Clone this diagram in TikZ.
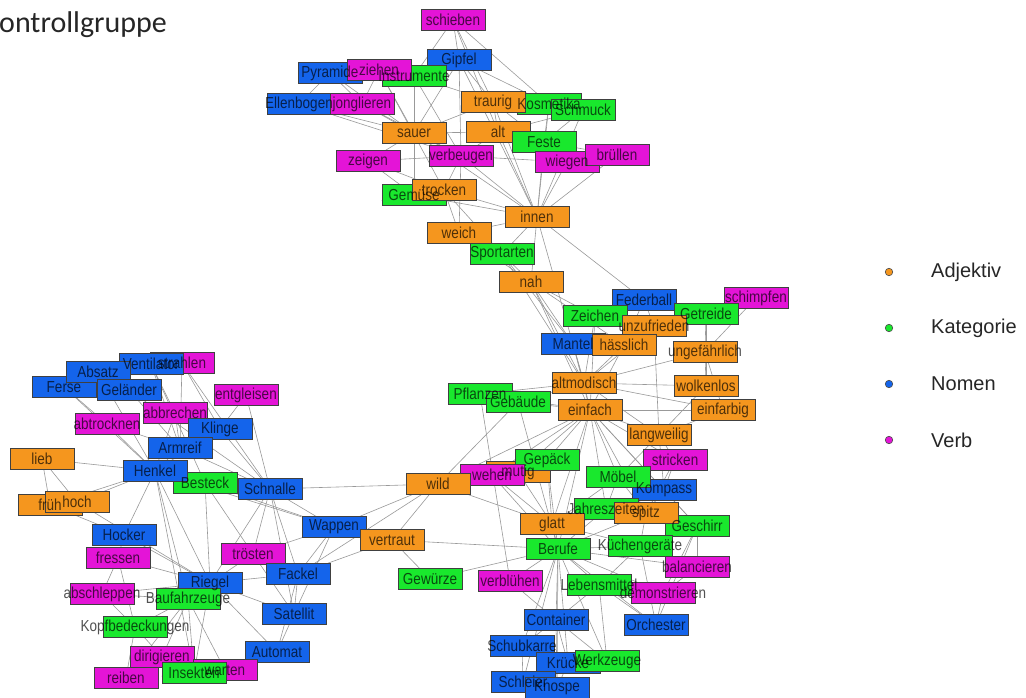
\documentclass[tikz,border=0pt]{standalone}
\usepackage{fontspec}
\setmainfont{Liberation Sans}
\newfontfamily\titlefont{Carlito}
\definecolor{adjcol}{RGB}{245,150,30}
\definecolor{katcol}{RGB}{25,232,45}
\definecolor{nomcol}{RGB}{20,100,235}
\definecolor{verbcol}{RGB}{228,20,215}
\pgfdeclarelayer{links}
\pgfdeclarelayer{labels}
\pgfsetlayers{links,main,labels}
% box first, its word on the top layer
\newcommand{\wbox}[5]{%
  \node[#1] (#2) at (#3,#4) {};
  \begin{pgfonlayer}{labels}\node[wlabel] at (#2) {#5};\end{pgfonlayer}}

\begin{document}
\begin{tikzpicture}[x=1pt,y=-1pt,
  word/.style={draw=black!75,line width=0.85pt,minimum width=64pt,minimum height=20.5pt,inner sep=0pt},
  adj/.style={word,fill=adjcol},
  kat/.style={word,fill=katcol},
  nom/.style={word,fill=nomcol},
  verb/.style={word,fill=verbcol},
  wlabel/.style={inner sep=0pt,yscale=1.18,text=black,text opacity=0.68,font=\fontsize{13.5}{15}\selectfont},
  wlink/.style={draw=black!40,line width=0.6pt},
  dot/.style={circle,draw=black!70,line width=0.6pt,minimum size=7.5pt,inner sep=0pt},
  legtext/.style={anchor=west,inner sep=0pt,text=black!85,font=\fontsize{20}{24}\selectfont}]
  \useasboundingbox (0,0) rectangle (1026,697);
  \begin{pgfonlayer}{links}
    \fill[white] (0,0) rectangle (1026,697);
  \end{pgfonlayer}

  \node[anchor=base west,inner sep=0pt,text=black!85,font=\titlefont\fontsize{30}{33}\selectfont] (title) at (-1,32) {ontrollgruppe};

  % upper group
  \wbox{verb}{schieben}{453}{20}{schieben}
  \wbox{nom}{gipfel}{459}{60}{Gipfel}
  \wbox{nom}{pyramide}{330}{73}{Pyramide}
  \wbox{kat}{instrumente}{414}{76}{Instrumente}
  \wbox{verb}{ziehen}{379}{70}{ziehen}
  \wbox{nom}{ellenbogen}{299}{104}{Ellenbogen}
  \wbox{verb}{jonglieren}{362}{104}{jonglieren}
  \wbox{kat}{kosmetika}{549}{104}{Kosmetika}
  \wbox{adj}{traurig}{493}{102}{traurig}
  \wbox{kat}{schmuck}{583}{110}{Schmuck}
  \wbox{adj}{sauer}{414}{133}{sauer}
  \wbox{adj}{alt}{498}{132}{alt}
  \wbox{kat}{feste}{544}{142}{Feste}
  \wbox{verb}{zeigen}{368}{161}{zeigen}
  \wbox{verb}{verbeugen}{461}{156}{verbeugen}
  \wbox{verb}{wiegen}{567}{162}{wiegen}
  \wbox{verb}{bruellen}{617}{155}{brüllen}
  \wbox{kat}{gemuese}{414}{195}{Gemüse}
  \wbox{adj}{trocken}{444}{190}{trocken}
  \wbox{adj}{innen}{537}{217}{innen}
  \wbox{adj}{weich}{459}{233}{weich}
  \wbox{kat}{sportarten}{502}{254}{Sportarten}
  \wbox{adj}{nah}{531}{282}{nah}

  % right group
  \wbox{nom}{federball}{644}{300}{Federball}
  \wbox{verb}{schimpfen}{756}{298}{schimpfen}
  \wbox{kat}{zeichen}{595}{316}{Zeichen}
  \wbox{kat}{getreide}{706}{314}{Getreide}
  \wbox{adj}{unzufrieden}{654}{326}{unzufrieden}
  \wbox{nom}{mantel}{573}{344}{Mantel}
  \wbox{adj}{haesslich}{624}{345}{hässlich}
  \wbox{adj}{ungefaehrlich}{705}{352}{ungefährlich}
  \wbox{adj}{altmodisch}{584}{383}{altmodisch}
  \wbox{adj}{wolkenlos}{706}{386}{wolkenlos}
  \wbox{kat}{pflanzen}{480}{394}{Pflanzen}
  \wbox{kat}{gebaeude}{518}{402}{Gebäude}
  \wbox{adj}{einfach}{590}{410}{einfach}
  \wbox{adj}{einfarbig}{723}{410}{einfarbig}
  \wbox{adj}{langweilig}{659}{435}{langweilig}
  \wbox{adj}{mutig}{518}{472}{mutig}
  \wbox{kat}{gepaeck}{547}{460}{Gepäck}
  \wbox{verb}{wehen}{492}{475}{wehen}
  \wbox{adj}{wild}{438}{484}{wild}
  \wbox{verb}{stricken}{675}{460}{stricken}
  \wbox{nom}{kompass}{664}{490}{Kompass}
  \wbox{kat}{moebel}{618}{477}{Möbel}
  \wbox{kat}{jahreszeiten}{606}{509}{Jahreszeiten}
  \wbox{kat}{geschirr}{697}{526}{Geschirr}
  \wbox{adj}{spitz}{646}{513}{spitz}
  \wbox{adj}{glatt}{552}{524}{glatt}
  \wbox{nom}{wappen}{334}{527}{Wappen}
  \wbox{adj}{vertraut}{392}{540}{vertraut}
  \wbox{kat}{berufe}{558}{549}{Berufe}
  \wbox{kat}{kuechengeraete}{640}{546}{Küchengeräte}
  \wbox{verb}{balancieren}{697}{567}{balancieren}
  \wbox{kat}{gewuerze}{430}{579}{Gewürze}
  \wbox{verb}{verbluehen}{510}{581}{verblühen}
  \wbox{kat}{lebensmittel}{599}{585}{Lebensmittel}
  \wbox{verb}{demonstrieren}{663}{593}{demonstrieren}
  \wbox{nom}{container}{556}{620}{Container}
  \wbox{nom}{orchester}{656}{625}{Orchester}
  \wbox{nom}{schubkarre}{522}{646}{Schubkarre}
  \wbox{nom}{kruecke}{568}{663}{Krücke}
  \wbox{kat}{werkzeuge}{607}{661}{Werkzeuge}
  \wbox{nom}{schleier}{523}{682}{Schleier}
  \wbox{nom}{knospe}{557}{688}{Knospe}

  % left group
  \wbox{verb}{strahlen}{182}{363}{strahlen}
  \wbox{nom}{ventilator}{151}{364}{Ventilator}
  \wbox{nom}{ferse}{64}{387}{Ferse}
  \wbox{nom}{absatz}{98}{372}{Absatz}
  \wbox{nom}{gelaender}{129}{390}{Geländer}
  \wbox{verb}{entgleisen}{246}{395}{entgleisen}
  \wbox{verb}{abbrechen}{175}{413}{abbrechen}
  \wbox{verb}{abtrocknen}{107}{424}{abtrocknen}
  \wbox{nom}{klinge}{220}{429}{Klinge}
  \wbox{nom}{armreif}{180}{448}{Armreif}
  \wbox{adj}{lieb}{42}{459}{lieb}
  \wbox{kat}{besteck}{205}{483}{Besteck}
  \wbox{nom}{henkel}{155}{471}{Henkel}
  \wbox{nom}{schnalle}{270}{489}{Schnalle}
  \wbox{adj}{frueh}{50}{505}{früh}
  \wbox{adj}{hoch}{77}{502}{hoch}
  \wbox{nom}{hocker}{124}{535}{Hocker}
  \wbox{verb}{fressen}{118}{558}{fressen}
  \wbox{verb}{troesten}{253}{554}{trösten}
  \wbox{nom}{fackel}{298}{574}{Fackel}
  \wbox{nom}{riegel}{210}{583}{Riegel}
  \wbox{verb}{abschleppen}{102}{594}{abschleppen}
  \wbox{kat}{baufahrzeuge}{188}{599}{Baufahrzeuge}
  \wbox{nom}{satellit}{294}{614}{Satellit}
  \wbox{kat}{kopfbedeckungen}{135}{627}{Kopfbedeckungen}
  \wbox{nom}{automat}{277}{652}{Automat}
  \wbox{verb}{dirigieren}{162}{657}{dirigieren}
  \wbox{verb}{warten}{225}{670}{warten}
  \wbox{verb}{reiben}{126}{678}{reiben}
  \wbox{kat}{insekten}{194}{673}{Insekten}

  \begin{pgfonlayer}{links}
    \foreach \a/\b in {schieben/gipfel,schieben/traurig,schieben/alt,schieben/instrumente,schieben/kosmetika,
      gipfel/traurig,gipfel/kosmetika,gipfel/verbeugen,gipfel/sauer,gipfel/innen,
      pyramide/ellenbogen,pyramide/jonglieren,pyramide/sauer,ziehen/jonglieren,ziehen/sauer,ziehen/trocken,
      instrumente/gemuese,instrumente/traurig,instrumente/verbeugen,instrumente/sauer,
      ellenbogen/sauer,ellenbogen/verbeugen,jonglieren/sauer,jonglieren/verbeugen,
      traurig/alt,traurig/kosmetika,traurig/sauer,traurig/innen,traurig/feste,
      kosmetika/innen,kosmetika/feste,schmuck/innen,schmuck/alt,schmuck/feste,
      sauer/alt,sauer/verbeugen,sauer/zeigen,sauer/innen,
      alt/feste,alt/innen,alt/verbeugen,alt/wiegen,feste/innen,feste/bruellen,
      zeigen/verbeugen,zeigen/gemuese,zeigen/trocken,
      verbeugen/wiegen,verbeugen/innen,verbeugen/trocken,verbeugen/weich,
      wiegen/innen,bruellen/innen,wiegen/bruellen,
      gemuese/trocken,gemuese/innen,trocken/innen,trocken/weich,trocken/sportarten,
      innen/weich,innen/sportarten,innen/nah,innen/federball,innen/altmodisch,
      weich/nah,weich/sportarten,sportarten/nah,sportarten/altmodisch,sportarten/mantel,
      nah/mantel,nah/altmodisch,nah/zeichen,nah/haesslich,nah/einfach}
      \draw[wlink] (\a) -- (\b);
    \foreach \a/\b in {federball/zeichen,federball/getreide,federball/unzufrieden,federball/haesslich,
      schimpfen/getreide,schimpfen/ungefaehrlich,
      getreide/unzufrieden,getreide/wolkenlos,getreide/ungefaehrlich,
      zeichen/altmodisch,zeichen/einfach,zeichen/unzufrieden,
      mantel/altmodisch,mantel/einfach,mantel/haesslich,
      haesslich/altmodisch,haesslich/einfach,haesslich/unzufrieden,
      unzufrieden/langweilig,unzufrieden/altmodisch,
      ungefaehrlich/altmodisch,ungefaehrlich/wolkenlos,ungefaehrlich/einfarbig,
      wolkenlos/altmodisch,wolkenlos/langweilig,einfarbig/altmodisch,einfarbig/langweilig,einfarbig/einfach,
      pflanzen/einfach,pflanzen/altmodisch,pflanzen/verbluehen,pflanzen/gebaeude,
      gebaeude/einfach,gebaeude/altmodisch,gebaeude/wild,gebaeude/berufe,
      altmodisch/einfach,altmodisch/langweilig,
      einfach/langweilig,einfach/gepaeck,einfach/mutig,einfach/wehen,einfach/moebel,einfach/glatt,
      einfach/berufe,einfach/jahreszeiten,einfach/spitz,einfach/kompass,einfach/stricken,einfach/wild,einfach/geschirr,
      langweilig/stricken,langweilig/kompass,langweilig/moebel,
      stricken/kompass,stricken/spitz,kompass/moebel,kompass/geschirr,kompass/spitz,
      moebel/jahreszeiten,moebel/spitz,moebel/glatt,
      gepaeck/glatt,gepaeck/wild,gepaeck/berufe,gepaeck/mutig,
      mutig/wild,mutig/glatt,wehen/wild,wehen/berufe,wehen/glatt,
      jahreszeiten/glatt,jahreszeiten/spitz,jahreszeiten/berufe,
      spitz/glatt,spitz/geschirr,spitz/kuechengeraete,spitz/berufe,
      geschirr/kuechengeraete,geschirr/demonstrieren,geschirr/orchester,geschirr/balancieren,
      glatt/berufe,glatt/wild,glatt/kuechengeraete}
      \draw[wlink] (\a) -- (\b);
    \foreach \a/\b in {berufe/vertraut,berufe/gewuerze,berufe/verbluehen,berufe/lebensmittel,berufe/container,
      berufe/schubkarre,berufe/kruecke,berufe/schleier,berufe/knospe,berufe/orchester,berufe/demonstrieren,
      berufe/kuechengeraete,berufe/werkzeuge,berufe/balancieren,
      kuechengeraete/balancieren,kuechengeraete/lebensmittel,kuechengeraete/orchester,
      lebensmittel/demonstrieren,lebensmittel/container,lebensmittel/werkzeuge,lebensmittel/orchester,
      demonstrieren/orchester,balancieren/demonstrieren,
      container/werkzeuge,container/schubkarre,container/kruecke,container/knospe,
      kruecke/werkzeuge,schubkarre/schleier,schleier/knospe,kruecke/knospe,
      verbluehen/container,gewuerze/vertraut,
      wild/schnalle,wild/wappen,wild/vertraut,wild/fackel,
      vertraut/wappen,vertraut/fackel,
      wappen/schnalle,wappen/troesten,wappen/fackel,wappen/satellit,wappen/besteck,wappen/henkel}
      \draw[wlink] (\a) -- (\b);
    \foreach \a/\b in {schnalle/henkel,schnalle/armreif,schnalle/klinge,schnalle/besteck,schnalle/riegel,
      schnalle/troesten,schnalle/fackel,schnalle/satellit,schnalle/entgleisen,schnalle/gelaender,schnalle/strahlen,
      klinge/armreif,klinge/entgleisen,klinge/abbrechen,klinge/strahlen,klinge/henkel,
      armreif/henkel,armreif/abbrechen,armreif/abtrocknen,armreif/ventilator,armreif/gelaender,armreif/strahlen,
      henkel/lieb,henkel/frueh,henkel/hoch,henkel/hocker,henkel/riegel,henkel/baufahrzeuge,henkel/insekten,
      henkel/besteck,henkel/absatz,henkel/ferse,henkel/abtrocknen,henkel/abbrechen,
      absatz/ferse,absatz/gelaender,gelaender/ferse,ventilator/strahlen,ventilator/abbrechen,
      ventilator/besteck,ferse/abtrocknen,
      lieb/frueh,lieb/hoch,frueh/hocker,hoch/riegel,
      hocker/fressen,hocker/riegel,fressen/abschleppen,fressen/kopfbedeckungen,fressen/riegel,
      abschleppen/baufahrzeuge,abschleppen/kopfbedeckungen,abschleppen/riegel,
      riegel/baufahrzeuge,riegel/troesten,riegel/fackel,riegel/satellit,riegel/automat,riegel/insekten,
      baufahrzeuge/kopfbedeckungen,baufahrzeuge/dirigieren,baufahrzeuge/reiben,baufahrzeuge/insekten,baufahrzeuge/warten,
      kopfbedeckungen/dirigieren,kopfbedeckungen/reiben,dirigieren/reiben,insekten/warten,dirigieren/insekten,
      satellit/automat,fackel/satellit,fackel/automat,troesten/fackel,troesten/satellit,
      besteck/riegel,besteck/troesten}
      \draw[wlink] (\a) -- (\b);
  \end{pgfonlayer}

  % legend
  \node[dot,fill=adjcol] (ladj) at (889,272) {};
  \node[legtext] (tadj) at (931,272) {Adjektiv};
  \node[dot,fill=katcol] (lkat) at (889,328) {};
  \node[legtext] (tkat) at (931,328) {Kategorie};
  \node[dot,fill=nomcol] (lnom) at (889,384) {};
  \node[legtext] (tnom) at (931,384) {Nomen};
  \node[dot,fill=verbcol] (lverb) at (889,440) {};
  \node[legtext] (tverb) at (931,440) {Verb};
\end{tikzpicture}
\end{document}
